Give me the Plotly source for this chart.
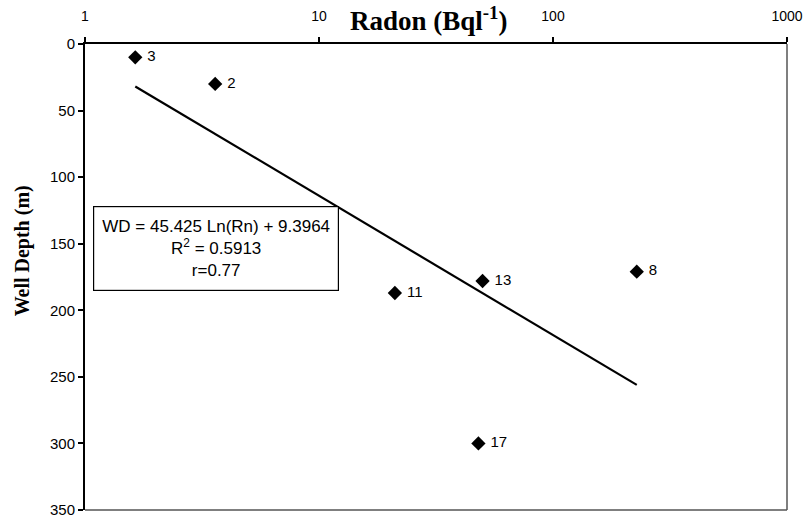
import numpy as np
import plotly.graph_objects as go

# Data
well_ids = ["3", "2", "11", "13", "8", "17"]
radon = [1.64, 3.6, 21.1, 50.0, 228.0, 48.0]        # Bq/l
depth = [10, 30, 187, 178, 171, 300]                # m

# Regression given on chart: WD = 45.425 Ln(Rn) + 9.3964
slope = 45.425
intercept = 9.3964
x_tick_vals = [1, 10, 100, 1000]
y_tick_vals = [0, 50, 100, 150, 200, 250, 300, 350]

trend_x = np.array([min(radon), max(radon)])
trend_y = slope * np.log(trend_x) + intercept

L, R, T, B = 85, 17, 44, 10
W, H = 804, 520

fig = go.Figure()
fig.add_trace(go.Scatter(
    x=trend_x, y=trend_y, mode="lines",
    line=dict(color="black", width=2.2), showlegend=False, hoverinfo="skip"))
fig.add_trace(go.Scatter(
    x=radon, y=depth, mode="markers+text",
    marker=dict(symbol="diamond", size=11, color="black"),
    text=[" " + s for s in well_ids], textposition="middle right",
    textfont=dict(family="Liberation Sans, Arial", size=15, color="black"),
    showlegend=False))

fig.update_layout(
    width=W, height=H,
    margin=dict(l=L, r=R, t=T, b=B),
    paper_bgcolor="white", plot_bgcolor="white",
    font=dict(family="Liberation Sans, Arial", color="black"),
    xaxis=dict(
        type="log", side="top", range=[0, 3], automargin=False,
        tickvals=x_tick_vals, ticktext=[str(v) for v in x_tick_vals],
        ticks="outside", ticklen=5, tickwidth=1.5, tickcolor="black",
        showgrid=False, zeroline=False,
        showline=True, linecolor="black", linewidth=2,
        tickfont=dict(size=14), ticklabelstandoff=10),
    yaxis=dict(
        range=[350, 0], tickvals=y_tick_vals, automargin=False,
        ticks="outside", ticklen=5, tickwidth=1.5, tickcolor="black",
        showgrid=False, zeroline=False,
        showline=True, linecolor="black", linewidth=2,
        tickfont=dict(size=15)),
    shapes=[
        dict(type="line", xref="paper", yref="paper", x0=1, x1=1, y0=0, y1=1,
             line=dict(color="#555", width=1.5)),
        dict(type="line", xref="paper", yref="paper", x0=0, x1=1, y0=0, y1=0,
             line=dict(color="#555", width=1.5)),
    ],
    annotations=[
        dict(text="<b>Radon (Bql<sup>-1</sup>)</b>", xref="paper", yref="paper",
             x=0.49, y=1, yshift=25, showarrow=False,
             font=dict(family="Liberation Serif, Times New Roman", size=27, color="black"),
             xanchor="center", yanchor="middle"),
        dict(text="<b>Well Depth (m)</b>", xref="paper", yref="paper",
             x=0, xshift=-63, y=0.555, textangle=-90, showarrow=False,
             font=dict(family="Liberation Serif, Times New Roman", size=20, color="black"),
             xanchor="center", yanchor="middle"),
        dict(text="WD = 45.425 Ln(Rn) + 9.3964<br>R<sup>2</sup> = 0.5913<br>r=0.77",
             xref="paper", yref="paper", x=0.1866, y=0.561, showarrow=False,
             xanchor="center", yanchor="middle",
             width=242, height=81, align="center", valign="middle",
             bordercolor="black", borderwidth=1.2, bgcolor="white",
             font=dict(family="Liberation Sans, Arial", size=17, color="black")),
    ],
)

fig.write_html("out.html",
               config={"displayModeBar": False},
               post_script=["document.body.style.margin='0';document.body.style.overflow='hidden';"])
